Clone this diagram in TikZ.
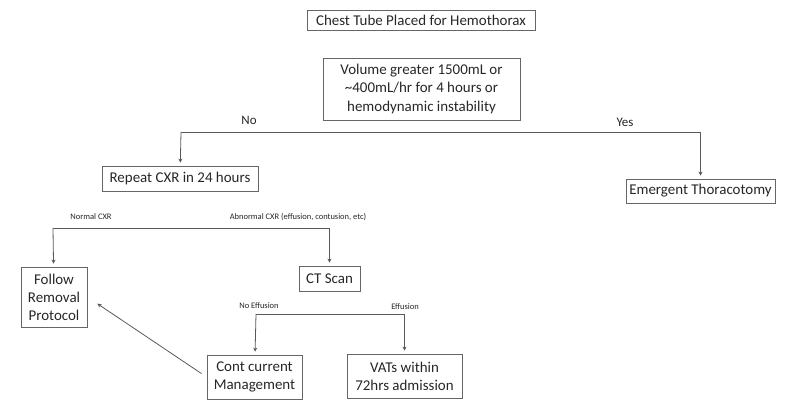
\documentclass[tikz,border=0pt]{standalone}
\usepackage{fontspec}
\setmainfont{Carlito}
\usetikzlibrary{arrows.meta}
\usetikzlibrary{positioning}

\begin{document}
\begin{tikzpicture}[x=1bp, y=-1bp,
    box/.style={draw=black!60, line width=0.8bp, text=black!85, align=center,
                inner sep=0pt, font=\fontsize{15}{18.2}\selectfont},
    lbl/.style={text=black!85, inner sep=0pt, font=\fontsize{13}{15}\selectfont},
    tiny/.style={text=black!85, inner sep=0pt, font=\fontsize{8.5}{10}\selectfont},
    link/.style={draw=black!65, line width=0.8bp},
    arr/.style={link, -{Stealth[length=4bp, width=4bp]}, shorten >=3bp}]
  \useasboundingbox (0,0) rectangle (795,407);

  % boxes
  \node[box, minimum width=228bp, minimum height=20bp] (chest) at (421,20) {Chest Tube Placed for Hemothorax};
  \node[box, minimum width=197bp, minimum height=62bp] (vol) at (421.5,89)
    {Volume greater 1500mL or\\ \textasciitilde400mL/hr for 4 hours or\\ hemodynamic instability};
  \node[box, minimum width=156bp, minimum height=25bp] (rep) at (180,178.5) {Repeat CXR in 24 hours};
  \node[box, minimum width=149bp, minimum height=24bp] (emg) at (700.5,191) {Emergent Thoracotomy};
  \node[box, minimum width=66bp, minimum height=60bp] (follow) at (54,297) {Follow\\ Removal\\ Protocol};
  \node[box, minimum width=61bp, minimum height=25bp] (ct) at (329.5,278.5) {CT Scan};
  \node[box, minimum width=95bp, minimum height=44bp] (cont) at (254.5,377) {Cont current\\ Management};
  \node[box, minimum width=115bp, minimum height=44bp] (vats) at (404.5,376) {VATs within\\ 72hrs admission};

  % branch labels
  \node[lbl] (no) at (249,120) {No};
  \node[lbl] (yes) at (625,122) {Yes};
  \node[tiny] (normal) at (91,217) {Normal CXR};
  \node[tiny] (abnormal) at (298,217) {Abnormal CXR (effusion, contusion, etc)};
  \node[tiny] (noeff) at (259,306) {No Effusion};
  \node[tiny] (eff) at (405,307) {Effusion};

  % branch points
  \coordinate (b1) at (181,132);
  \coordinate (b2) at (53,228);
  \coordinate (b3) at (256,314);

  \draw[arr] (b1) -| (emg);
  \draw[arr] (b1) -- (rep);
  \draw[arr] (b2) -| (ct);
  \draw[arr] (b2) -- (follow);
  \draw[arr] (b3) -| (vats);
  \draw[arr] (b3) -- (cont);
  \draw[arr, shorten <=6bp, shorten >=12bp] (cont.west) -- (follow.east);
\end{tikzpicture}
\end{document}
